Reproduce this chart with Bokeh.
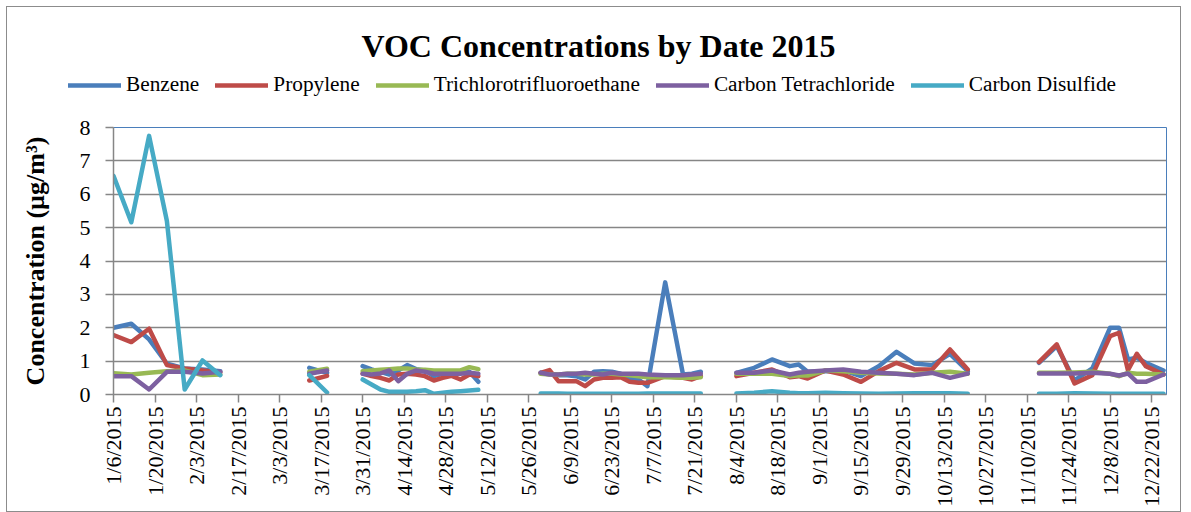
import numpy as np
import pandas as pd
from bokeh.plotting import figure
from bokeh.layouts import column
from bokeh.models import (ColumnDataSource, FixedTicker, Legend, LegendItem, Range1d, Label)
from bokeh.embed import file_html
from bokeh.resources import INLINE

# ---------------- data ----------------
sample_dates = [
    "1/6/2015", "1/12/2015", "1/18/2015", "1/24/2015", "1/30/2015", "2/5/2015", "2/11/2015",
    "2/23/2015",
    "3/13/2015", "3/19/2015",
    "3/25/2015",
    "3/31/2015", "4/3/2015", "4/6/2015", "4/9/2015", "4/12/2015", "4/15/2015", "4/18/2015",
    "4/21/2015", "4/24/2015", "4/27/2015", "4/30/2015", "5/3/2015", "5/6/2015", "5/9/2015",
    "5/18/2015",
    "5/30/2015", "6/2/2015", "6/5/2015", "6/8/2015", "6/11/2015", "6/14/2015", "6/17/2015",
    "6/20/2015", "6/23/2015", "6/26/2015", "6/29/2015", "7/2/2015", "7/5/2015", "7/11/2015",
    "7/17/2015", "7/20/2015", "7/23/2015",
    "7/29/2015",
    "8/4/2015", "8/10/2015", "8/16/2015", "8/22/2015", "8/25/2015", "8/28/2015", "9/3/2015",
    "9/9/2015", "9/15/2015", "9/21/2015", "9/27/2015", "10/3/2015", "10/9/2015", "10/15/2015",
    "10/21/2015",
    "11/2/2015",
    "11/14/2015", "11/20/2015", "11/26/2015", "12/2/2015", "12/8/2015", "12/11/2015",
    "12/14/2015", "12/17/2015", "12/20/2015", "12/26/2015",
]
N = None  # no sample (gap in the line)
benzene = [
    2.0, 2.12, 1.65, 0.92, 0.78, 0.75, 0.7,
    N,
    0.8, 0.65,
    N,
    0.85, 0.75, 0.68, 0.6, 0.72, 0.88, 0.76, 0.72, 0.55, 0.62, 0.6, 0.65, 0.68, 0.38,
    N,
    0.65, 0.62, 0.58, 0.58, 0.55, 0.45, 0.68, 0.7, 0.68, 0.62, 0.5, 0.45, 0.25, 3.36, 0.6, 0.62, 0.68,
    N,
    0.65, 0.8, 1.05, 0.85, 0.9, 0.68, 0.7, 0.72, 0.55, 0.85, 1.28, 0.93, 0.88, 1.22, 0.7,
    N,
    0.95, 1.45, 0.42, 0.78, 2.0, 2.0, 1.05, 1.1, 0.95, 0.72,
]
propylene = [
    1.78, 1.57, 1.97, 0.88, 0.78, 0.72, 0.66,
    N,
    0.42, 0.56,
    N,
    0.63, 0.55, 0.5, 0.42, 0.6, 0.62, 0.6, 0.55, 0.42, 0.5, 0.56, 0.45, 0.6, 0.55,
    N,
    0.65, 0.73, 0.4, 0.4, 0.4, 0.25, 0.45, 0.5, 0.5, 0.52, 0.38, 0.35, 0.35, 0.55, 0.5, 0.45, 0.55,
    N,
    0.55, 0.65, 0.75, 0.52, 0.55, 0.48, 0.72, 0.6, 0.38, 0.7, 0.95, 0.75, 0.75, 1.35, 0.75,
    N,
    0.97, 1.5, 0.33, 0.58, 1.75, 1.85, 0.73, 1.22, 0.85, 0.6,
]
trichlorotrifluoroethane = [
    0.64, 0.6, 0.65, 0.7, 0.72, 0.58, 0.6,
    N,
    0.68, 0.77,
    N,
    0.7, 0.72, 0.74, 0.76, 0.78, 0.78, 0.75, 0.74, 0.72, 0.72, 0.72, 0.72, 0.82, 0.76,
    N,
    0.62, 0.6, 0.6, 0.62, 0.62, 0.6, 0.6, 0.62, 0.62, 0.6, 0.58, 0.55, 0.52, 0.52, 0.5, 0.5, 0.52,
    N,
    0.62, 0.62, 0.62, 0.55, 0.58, 0.57, 0.72, 0.7, 0.65, 0.63, 0.62, 0.6, 0.65, 0.68, 0.62,
    N,
    0.65, 0.65, 0.66, 0.68, 0.62, 0.55, 0.65, 0.62, 0.62, 0.6,
]
carbon_tetrachloride = [
    0.55, 0.55, 0.15, 0.68, 0.68, 0.63, 0.68,
    N,
    0.62, 0.72,
    N,
    0.62, 0.6, 0.63, 0.72, 0.4, 0.62, 0.72, 0.68, 0.62, 0.62, 0.62, 0.62, 0.65, 0.62,
    N,
    0.65, 0.6, 0.6, 0.62, 0.62, 0.65, 0.62, 0.6, 0.65, 0.62, 0.62, 0.62, 0.6, 0.58, 0.58, 0.6, 0.62,
    N,
    0.65, 0.65, 0.72, 0.6, 0.65, 0.68, 0.72, 0.75, 0.68, 0.65, 0.62, 0.58, 0.65, 0.5, 0.63,
    N,
    0.63, 0.63, 0.63, 0.65, 0.62, 0.57, 0.63, 0.38, 0.38, 0.6,
]
carbon_disulfide = [
    6.55, 5.16, 7.75, 5.2, 0.15, 1.02, 0.58,
    N,
    0.58, 0.06,
    N,
    0.45, 0.3, 0.15, 0.08, 0.08, 0.08, 0.1, 0.13, 0.02, 0.05, 0.08, 0.1, 0.12, 0.14,
    N,
    0.03, 0.03, 0.03, 0.02, 0.02, 0.02, 0.02, 0.02, 0.02, 0.02, 0.02, 0.02, 0.03, 0.03, 0.03, 0.03, 0.03,
    N,
    0.03, 0.05, 0.1, 0.05, 0.04, 0.04, 0.05, 0.04, 0.03, 0.02, 0.03, 0.04, 0.04, 0.04, 0.02,
    N,
    0.02, 0.02, 0.04, 0.03, 0.02, 0.02, 0.02, 0.02, 0.02, 0.02,
]
series_names = ["Benzene", "Propylene", "Trichlorotrifluoroethane",
                "Carbon Tetrachloride", "Carbon Disulfide"]
series_colors = ["#4a7ebb", "#be4b48", "#98b954", "#7d60a0", "#46aac5"]

tick_labels = [
    "1/6/2015", "1/20/2015", "2/3/2015", "2/17/2015", "3/3/2015", "3/17/2015", "3/31/2015",
    "4/14/2015", "4/28/2015", "5/12/2015", "5/26/2015", "6/9/2015", "6/23/2015", "7/7/2015",
    "7/21/2015", "8/4/2015", "8/18/2015", "9/1/2015", "9/15/2015", "9/29/2015", "10/13/2015",
    "10/27/2015", "11/10/2015", "11/24/2015", "12/8/2015", "12/22/2015",
]
y_ticks = [0, 1, 2, 3, 4, 5, 6, 7, 8]
x_start_date = "1/6/2015"
x_end_date = "12/27/2015"
chart_title = "VOC Concentrations by Date 2015"
y_label = "Concentration (µg/m³)"

# ---------------- build ----------------
origin = pd.to_datetime(x_start_date, format="%m/%d/%Y")


def to_day(s):
    return float((pd.to_datetime(s, format="%m/%d/%Y") - origin).days)


def clean(v):
    return [np.nan if x is None else x for x in v]


days = [to_day(d) for d in sample_dates]
data = {"x": days}
values = [benzene, propylene, trichlorotrifluoroethane, carbon_tetrachloride, carbon_disulfide]
keys = ["s0", "s1", "s2", "s3", "s4"]
for k, v in zip(keys, values):
    data[k] = clean(v)
src = ColumnDataSource(data)

FONT = "Liberation Serif"
GRAY = "#868686"
W = 1173
HEAD_H = 108
LINE_W = 4.5

# ---- header: title + legend ----
head = figure(
    width=W, height=HEAD_H, x_range=Range1d(0, W), y_range=Range1d(0, HEAD_H),
    min_border=0, x_axis_location=None, y_axis_location=None,
    output_backend="svg", toolbar_location=None, title=None,
    background_fill_color="white", border_fill_color="white",
)
head.frame_align = False
head.outline_line_color = None
for g in head.grid:
    g.visible = False

head.add_layout(Label(x=591, y=70, text=chart_title, text_align="center",
                      text_baseline="middle", text_font=FONT, text_font_size="32px",
                      text_font_style="bold", text_color="black"))

legend_renderers = []
for c in series_colors:
    legend_renderers.append(head.line(x=[np.nan], y=[np.nan], line_color=c,
                                      line_width=LINE_W, line_cap="round"))
legend = Legend(
    items=[LegendItem(label=n, renderers=[r]) for n, r in zip(series_names, legend_renderers)],
    location=(61, 18), orientation="horizontal",
    glyph_width=53, glyph_height=20, label_height=20, label_standoff=5, spacing=16,
    padding=0, margin=0, border_line_alpha=0, background_fill_alpha=0,
    label_text_font=FONT, label_text_font_size="21.3px", label_text_color="black",
)
head.add_layout(legend)

# ---- main chart ----
p = figure(
    frame_width=1053, frame_height=267,
    min_border_left=106, min_border_right=W - 106 - 1053, min_border_top=12, min_border_bottom=117,
    x_range=Range1d(0, to_day(x_end_date)), y_range=Range1d(0, 8),
    output_backend="svg", toolbar_location=None, title=None,
    background_fill_color="white", border_fill_color="white",
)
p.frame_align = False
p.outline_line_color = "#4a7ebb"
p.outline_line_width = 1

for k, c in zip(keys, series_colors):
    p.line("x", k, source=src, line_color=c, line_width=LINE_W,
           line_join="round", line_cap="round")

tick_days = [to_day(t) for t in tick_labels]
p.xaxis.ticker = FixedTicker(ticks=tick_days)
p.xaxis.major_label_overrides = {d: t for d, t in zip(tick_days, tick_labels)}
p.xaxis.major_label_orientation = np.pi / 2
p.xaxis.major_label_text_font = FONT
p.xaxis.major_label_text_font_size = "22px"
p.xaxis.major_label_text_color = "black"
p.xaxis.major_label_standoff = 4
p.xaxis.major_tick_out = 8
p.xaxis.major_tick_in = 0
p.xaxis.minor_tick_line_color = None
p.xaxis.axis_line_color = GRAY
p.xaxis.axis_line_width = 1.5
p.xaxis.major_tick_line_color = GRAY
p.xaxis.major_tick_line_width = 1.5

p.yaxis.ticker = FixedTicker(ticks=y_ticks)
p.yaxis.major_label_text_font = FONT
p.yaxis.major_label_text_font_size = "22px"
p.yaxis.major_label_text_color = "black"
p.yaxis.major_label_standoff = 15
p.yaxis.major_tick_out = 8
p.yaxis.major_tick_in = 0
p.yaxis.minor_tick_line_color = None
p.yaxis.axis_line_color = GRAY
p.yaxis.axis_line_width = 1.5
p.yaxis.major_tick_line_color = GRAY
p.yaxis.major_tick_line_width = 1.5
p.yaxis.axis_label = y_label
p.yaxis.axis_label_text_font = FONT
p.yaxis.axis_label_text_font_size = "26px"
p.yaxis.axis_label_text_font_style = "bold"
p.yaxis.axis_label_text_color = "black"
p.yaxis.axis_label_standoff = 27

p.xgrid.visible = False
p.ygrid.grid_line_color = GRAY
p.ygrid.grid_line_width = 1.5

page = column(head, p, spacing=0)
page.margin = (7, 7, 7, 7)
page.styles = {"outline": "1.5px solid #8c8c8c"}

open("out.html", "w").write(file_html(page, INLINE))
